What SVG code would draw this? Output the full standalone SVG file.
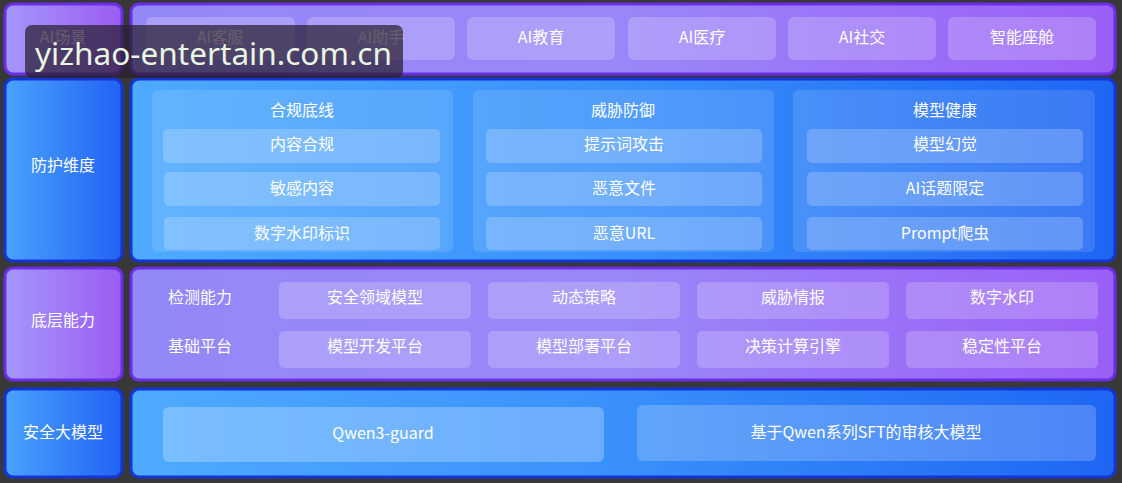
<svg xmlns="http://www.w3.org/2000/svg" width="1122" height="483" viewBox="0 0 1122 483">
<defs>
<linearGradient id="gpL" x1="0" y1="0" x2="1" y2="0"><stop offset="0" stop-color="#a597fa"/><stop offset="1" stop-color="#9a5cf3"/></linearGradient>
<linearGradient id="gpR" x1="0" y1="0" x2="1" y2="0"><stop offset="0" stop-color="#9388f8"/><stop offset="0.5" stop-color="#9a86f8"/><stop offset="1" stop-color="#9a5ff6"/></linearGradient>
<linearGradient id="gbL" x1="0" y1="0" x2="1" y2="0"><stop offset="0" stop-color="#4aa2fc"/><stop offset="1" stop-color="#2262f4"/></linearGradient>
<linearGradient id="gbR" x1="0" y1="0" x2="1" y2="0"><stop offset="0" stop-color="#4eaaff"/><stop offset="0.5" stop-color="#3990fb"/><stop offset="1" stop-color="#1f66f3"/></linearGradient>
<style>
.pbox{stroke:#6a2ee6;stroke-width:3}
.bbox{stroke:#1434d8;stroke-width:3}
.chip{fill:#ffffff;fill-opacity:0.2}
.panel{fill:#ffffff;fill-opacity:0.12}
.t{font-family:"Noto Sans CJK SC","Noto Sans",sans-serif;font-size:16px;fill:#ffffff;text-anchor:middle;dominant-baseline:central}
.tl{font-family:"Noto Sans CJK SC","Noto Sans",sans-serif;font-size:16px;fill:#ffffff;text-anchor:start;dominant-baseline:central}
</style>
</defs>
<rect x="0" y="0" width="1122" height="483" fill="#383838"/>

<g id="row1">
<rect x="5" y="4" width="117" height="70" rx="8" fill="url(#gpL)" class="pbox"/>
<text class="t" x="63" y="36">AI场景</text>
<rect x="131" y="4" width="984" height="70" rx="8" fill="url(#gpR)" class="pbox"/>
<g id="n-ai-kefu"><rect class="chip" x="146" y="17" width="149" height="43" rx="6"/><text class="t" x="220" y="36">AI客服</text></g>
<g id="n-ai-zhushou"><rect class="chip" x="307" y="17" width="148" height="43" rx="6"/><text class="t" x="381" y="36">AI助手</text></g>
<g id="n-ai-jiaoyu"><rect class="chip" x="467" y="17" width="148" height="43" rx="6"/><text class="t" x="541" y="36">AI教育</text></g>
<g id="n-ai-yiliao"><rect class="chip" x="628" y="17" width="148" height="43" rx="6"/><text class="t" x="702" y="36">AI医疗</text></g>
<g id="n-ai-shejiao"><rect class="chip" x="788" y="17" width="148" height="43" rx="6"/><text class="t" x="862" y="36">AI社交</text></g>
<g id="n-zhineng"><rect class="chip" x="948" y="17" width="148" height="43" rx="6"/><text class="t" x="1022" y="36">智能座舱</text></g>
</g>

<g id="row2">
<rect x="5" y="79" width="117" height="182" rx="8" fill="url(#gbL)" class="bbox"/>
<text class="t" x="63" y="164">防护维度</text>
<rect x="131" y="79" width="984" height="182" rx="8" fill="url(#gbR)" class="bbox"/>
<g id="p-hegui">
<rect class="panel" x="152" y="90" width="301" height="162" rx="6"/>
<text class="t" x="302" y="109">合规底线</text>
<rect class="chip" x="163" y="129" width="277" height="34" rx="5"/><text class="t" x="302" y="143">内容合规</text>
<rect class="chip" x="164" y="172" width="276" height="34" rx="5"/><text class="t" x="302" y="187">敏感内容</text>
<rect class="chip" x="164" y="217" width="276" height="33" rx="5"/><text class="t" x="302" y="232">数字水印标识</text>
</g>
<g id="p-weixie">
<rect class="panel" x="473" y="90" width="301" height="162" rx="6"/>
<text class="t" x="623" y="109">威胁防御</text>
<rect class="chip" x="486" y="129" width="276" height="34" rx="5"/><text class="t" x="624" y="143">提示词攻击</text>
<rect class="chip" x="486" y="172" width="276" height="34" rx="5"/><text class="t" x="624" y="187">恶意文件</text>
<rect class="chip" x="486" y="217" width="276" height="33" rx="5"/><text class="t" x="624" y="232">恶意URL</text>
</g>
<g id="p-moxing">
<rect class="panel" x="793" y="90" width="302" height="162" rx="6"/>
<text class="t" x="945" y="109">模型健康</text>
<rect class="chip" x="807" y="129" width="276" height="34" rx="5"/><text class="t" x="945" y="143">模型幻觉</text>
<rect class="chip" x="807" y="172" width="276" height="34" rx="5"/><text class="t" x="945" y="187">AI话题限定</text>
<rect class="chip" x="807" y="217" width="276" height="33" rx="5"/><text class="t" x="945" y="232">Prompt爬虫</text>
</g>
</g>

<g id="row3">
<rect x="5" y="268" width="117" height="112" rx="8" fill="url(#gpL)" class="pbox"/>
<text class="t" x="63" y="319">底层能力</text>
<rect x="131" y="268" width="984" height="112" rx="8" fill="url(#gpR)" class="pbox"/>
<text class="tl" x="168" y="296">检测能力</text>
<text class="tl" x="168" y="345">基础平台</text>
<g id="n-anquan"><rect class="chip" x="279" y="282" width="192" height="37" rx="5"/><text class="t" x="375" y="296">安全领域模型</text></g>
<g id="n-dongtai"><rect class="chip" x="488" y="282" width="192" height="37" rx="5"/><text class="t" x="584" y="296">动态策略</text></g>
<g id="n-qingbao"><rect class="chip" x="697" y="282" width="192" height="37" rx="5"/><text class="t" x="793" y="296">威胁情报</text></g>
<g id="n-shuiyin"><rect class="chip" x="906" y="282" width="192" height="37" rx="5"/><text class="t" x="1002" y="296">数字水印</text></g>
<g id="n-kaifa"><rect class="chip" x="279" y="331" width="192" height="37" rx="5"/><text class="t" x="375" y="345">模型开发平台</text></g>
<g id="n-bushu"><rect class="chip" x="488" y="331" width="192" height="37" rx="5"/><text class="t" x="584" y="345">模型部署平台</text></g>
<g id="n-juece"><rect class="chip" x="697" y="331" width="192" height="37" rx="5"/><text class="t" x="793" y="345">决策计算引擎</text></g>
<g id="n-wending"><rect class="chip" x="906" y="331" width="192" height="37" rx="5"/><text class="t" x="1002" y="345">稳定性平台</text></g>
</g>

<g id="row4">
<rect x="5" y="389" width="117" height="88" rx="8" fill="url(#gbL)" class="bbox"/>
<text class="t" x="63" y="431">安全大模型</text>
<rect x="131" y="389" width="984" height="88" rx="8" fill="url(#gbR)" class="bbox"/>
<g id="n-qwen3guard"><rect class="chip" x="163" y="407" width="441" height="55" rx="6" style="fill-opacity:0.25"/><text class="t" x="383" y="432">Qwen3-guard</text></g>
<g id="n-sft"><rect class="chip" x="637" y="405" width="459" height="56" rx="6"/><text class="t" x="866" y="431">基于Qwen系列SFT的审核大模型</text></g>
</g>

<g id="connectors"></g>

<g id="watermark">
<rect x="25" y="25" width="378" height="53" rx="7" fill="#2a2030" fill-opacity="0.72"/>
<text x="35" y="65" font-family="'Noto Sans','Open Sans',sans-serif" font-size="30" fill="#eaf6e4" textLength="357" lengthAdjust="spacingAndGlyphs">yizhao-entertain.com.cn</text>
</g>
</svg>
